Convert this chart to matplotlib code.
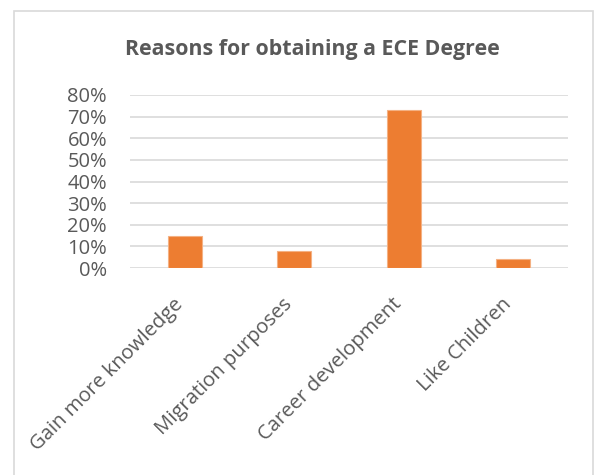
import matplotlib.pyplot as plt
from matplotlib.patches import Rectangle
from matplotlib.ticker import PercentFormatter
from matplotlib.transforms import ScaledTranslation

# data
reasons = ["Gain more knowledge", "Migration purposes",
           "Career development", "Like Children"]
shares = [0.15, 0.08, 0.73, 0.04]

text_color = "#595959"
bar_color = "#ED7D31"
font = "Open Sans"

fig = plt.figure(figsize=(5.97, 4.75), dpi=100)
ax = fig.add_axes([130 / 597, 1 - 268 / 475, 438 / 597, 173 / 475])

# chart border like excel
fig.patches.append(Rectangle((14 / 597, -0.05), (593 - 14) / 597, 1 - 11 / 475 + 0.05,
                             transform=fig.transFigure, fill=False,
                             edgecolor="#d9d9d9", linewidth=1.2))

x = range(len(reasons))
ax.bar(x, shares, width=0.31, color=bar_color, edgecolor="#f4b183",
       linewidth=0.8, zorder=3)

ax.set_xlim(-0.5, len(reasons) - 0.5)
ax.set_ylim(0, 0.8)
ax.set_yticks([i / 10 for i in range(9)])
ax.yaxis.set_major_formatter(PercentFormatter(1.0, decimals=0))
ax.grid(axis="y", color="#d9d9d9", linewidth=1.2, zorder=0)
for s in ax.spines.values():
    s.set_visible(False)
ax.tick_params(axis="both", length=0, colors=text_color)
ax.tick_params(axis="y", pad=16.5)

for lbl in ax.get_yticklabels():
    lbl.set_fontsize(14.5)
    lbl.set_fontfamily(font)

ax.set_xticks(list(x))
ax.set_xticklabels(reasons, rotation=45, ha="right", va="center",
                   rotation_mode="anchor",
                   fontsize=14.6, fontfamily=font, color=text_color)
ax.tick_params(axis="x", pad=24)
shift = ScaledTranslation(-5 / 100, 0, fig.dpi_scale_trans)
for lbl in ax.get_xticklabels():
    lbl.set_transform(lbl.get_transform() + shift)

fig.text(312 / 597, 1 - 49 / 475, "Reasons for obtaining a ECE Degree",
         ha="center", va="center", fontsize=15.4, fontweight="bold",
         fontfamily=font, color=text_color)

plt.savefig("out.png", dpi=100)
